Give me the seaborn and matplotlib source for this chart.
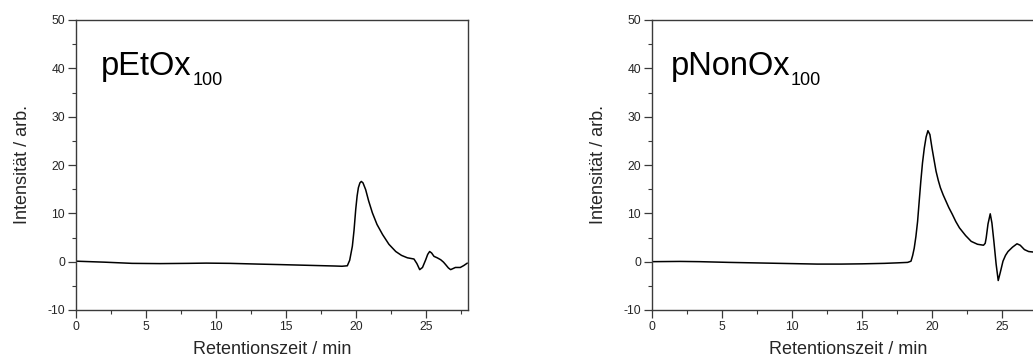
import matplotlib
matplotlib.use("Agg")
import matplotlib.pyplot as plt
from matplotlib.ticker import MultipleLocator
import seaborn as sns
import pandas as pd

# GPC traces: retention time (min) and detector intensity (arb.)
etox_time = [0.0, 2.0, 4.0, 6.0, 8.0, 9.3, 11.0, 13.0, 14.5, 16.5, 18.5, 19.0, 19.38,
             19.55, 19.74, 19.86, 19.98, 20.08, 20.17, 20.28, 20.38, 20.5, 20.69, 20.9,
             21.17, 21.5, 21.9, 22.35, 22.84, 23.25, 23.67, 23.95, 24.14, 24.35, 24.55,
             24.75, 24.98, 25.12, 25.26, 25.4, 25.57, 25.8, 26.05, 26.25, 26.4, 26.6,
             26.76, 26.95, 27.1, 27.45, 27.7, 27.95]
etox_signal = [0.1, -0.1, -0.35, -0.4, -0.35, -0.3, -0.35, -0.5, -0.6, -0.75, -0.9, -0.95, -0.85,
               0.3, 3.2, 6.5, 10.8, 13.6, 15.3, 16.3, 16.6, 16.3, 14.9, 12.6,
               10.1, 7.7, 5.6, 3.6, 2.1, 1.3, 0.8, 0.65, 0.55, -0.4, -1.65,
               -1.2, 0.4, 1.5, 2.1, 1.8, 1.1, 0.8, 0.4, -0.1, -0.6, -1.3,
               -1.65, -1.4, -1.2, -1.2, -0.8, -0.3]

nonox_time = [0.0, 2.0, 3.4, 5.5, 8.2, 10.0, 11.8, 13.5, 15.0, 16.6, 17.5, 18.26, 18.5,
              18.62, 18.73, 18.85, 18.97, 19.08, 19.2, 19.32, 19.45, 19.58, 19.71, 19.85,
              20.0, 20.15, 20.29, 20.45, 20.6, 20.8, 21.0, 21.2, 21.45, 21.7, 21.96,
              22.4, 22.8, 23.25, 23.68, 23.8, 23.87, 24.0, 24.16, 24.28, 24.42, 24.58,
              24.73, 24.88, 25.07, 25.25, 25.43, 25.75, 26.07, 26.3, 26.6, 26.9, 27.2,
              27.6, 28.0]
nonox_signal = [0.0, 0.05, 0.0, -0.15, -0.3, -0.4, -0.5, -0.5, -0.45, -0.35, -0.25, -0.15, 0.1,
                1.3, 2.8, 5.2, 8.3, 12.3, 16.6, 20.4, 23.5, 25.8, 27.1, 26.3,
                23.5, 21.0, 18.7, 16.8, 15.3, 13.8, 12.5, 11.2, 9.8, 8.3, 7.0,
                5.4, 4.2, 3.6, 3.4, 3.8, 4.9, 7.8, 9.9, 8.0, 4.2, -0.5,
                -3.9, -2.2, 0.1, 1.3, 2.1, 3.0, 3.7, 3.4, 2.5, 2.1, 2.0,
                1.9, 1.9]

panels = [
    ("pEtOx", etox_time, etox_signal, 1.8),
    ("pNonOx", nonox_time, nonox_signal, 1.35),
]
subscript = "100"

x_label = "Retentionszeit / min"
y_label = "Intensität / arb."

sns.set_theme(style="ticks")
plt.rcParams["font.family"] = ["Liberation Sans", "DejaVu Sans"]
plt.rcParams["axes.unicode_minus"] = False

W, H = 1033, 359
fig = plt.figure(figsize=(W / 100, H / 100), dpi=100)
fig.patch.set_facecolor("white")

axis_color = "#3a3a3a"
text_color = "#262626"

# axes boxes in pixels: (left, top, width, height); the second panel runs past the right edge
boxes = [(76, 20, 392, 290), (652, 20, 392, 290)]

for (name, t, s, name_x), (l, top, w, h) in zip(panels, boxes):
    ax = fig.add_axes([l / W, (H - top - h) / H, w / W, h / H])
    df = pd.DataFrame({"time": t, "signal": s})
    sns.lineplot(data=df, x="time", y="signal", ax=ax, color="black",
                 linewidth=1.1, estimator=None, sort=False)
    ax.set_xlim(0, 28)
    ax.set_ylim(-10, 50)
    ax.xaxis.set_major_locator(MultipleLocator(5))
    ax.xaxis.set_minor_locator(MultipleLocator(2.5))
    ax.yaxis.set_major_locator(MultipleLocator(10))
    ax.yaxis.set_minor_locator(MultipleLocator(5))
    ax.tick_params(which="major", direction="out", length=5.5, width=0.9,
                   color=axis_color, labelsize=8.7, labelcolor=text_color, pad=2.5)
    ax.tick_params(which="minor", direction="out", length=3, width=0.8,
                   color=axis_color)
    ax.tick_params(top=False, right=False, which="both")
    for sp in ax.spines.values():
        sp.set_visible(True)
        sp.set_color(axis_color)
        sp.set_linewidth(1.0)
    ax.set_xlabel(x_label, fontsize=13, color=text_color, labelpad=6)
    ax.set_ylabel(y_label, fontsize=13, color=text_color, labelpad=12)

    # sample name with a smaller subscript degree of polymerisation
    main = ax.text(name_x, 38.7, name, fontsize=23.5, color="black",
                   ha="left", va="baseline")
    ax.annotate(subscript, xy=(1, 0), xycoords=main, xytext=(0.3, -2.2),
                textcoords="offset points", fontsize=13, color="black",
                ha="left", va="baseline")
    ax.set_facecolor("white")

fig.savefig("out.png", dpi=100, facecolor="white")
